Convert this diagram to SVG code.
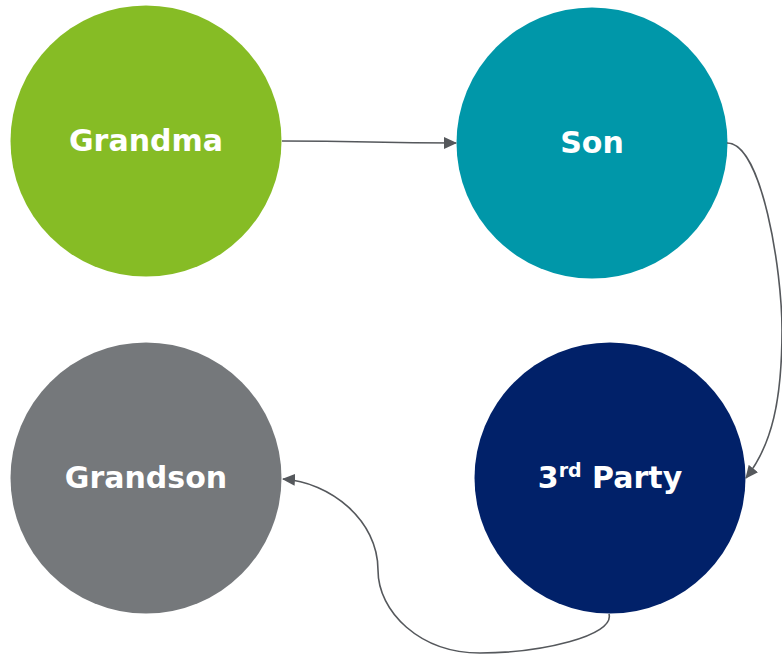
<svg xmlns="http://www.w3.org/2000/svg" width="782" height="656" viewBox="0 0 782 656">
<defs>
<style>
.lbl{font-family:"DejaVu Sans",Verdana,sans-serif;font-weight:bold;font-size:30px;fill:#fff;text-anchor:middle}
.con{fill:none;stroke:#55585c;stroke-width:1.6}
</style>
<marker id="ah" markerWidth="13" markerHeight="12" refX="12" refY="6" orient="auto" markerUnits="userSpaceOnUse">
<path d="M0,0 L13,6 L0,12 Z" fill="#55585c"/>
</marker>
</defs>
<rect width="782" height="656" fill="#fff"/>
<g id="grandma"><circle cx="146" cy="141" r="135.5" fill="#86BC25"/><text class="lbl" x="146" y="151">Grandma</text></g>
<g id="son"><circle cx="592" cy="143" r="135.5" fill="#0097A9"/><text class="lbl" x="592" y="153">Son</text></g>
<g id="grandson"><circle cx="146" cy="478" r="135.5" fill="#75787B"/><text class="lbl" x="146" y="488">Grandson</text></g>
<g id="party"><circle cx="610" cy="478" r="135.5" fill="#012169"/><text class="lbl" x="610" y="488">3<tspan font-size="19" dy="-11">rd</tspan><tspan dy="11"> Party</tspan></text></g>
<g id="connectors">
<path class="con" d="M282,141 C370,141 370,143 456,143" marker-end="url(#ah)"/>
<path class="con" d="M727,143 C762,143 782,270 782,330 C782,400 772,445 746,478" marker-end="url(#ah)"/>
<path class="con" d="M609,614 C615,636 540,653 480,653 C420,653 378,612 378,570 C378,520 330,482 283,479" marker-end="url(#ah)"/>
</g>
</svg>
